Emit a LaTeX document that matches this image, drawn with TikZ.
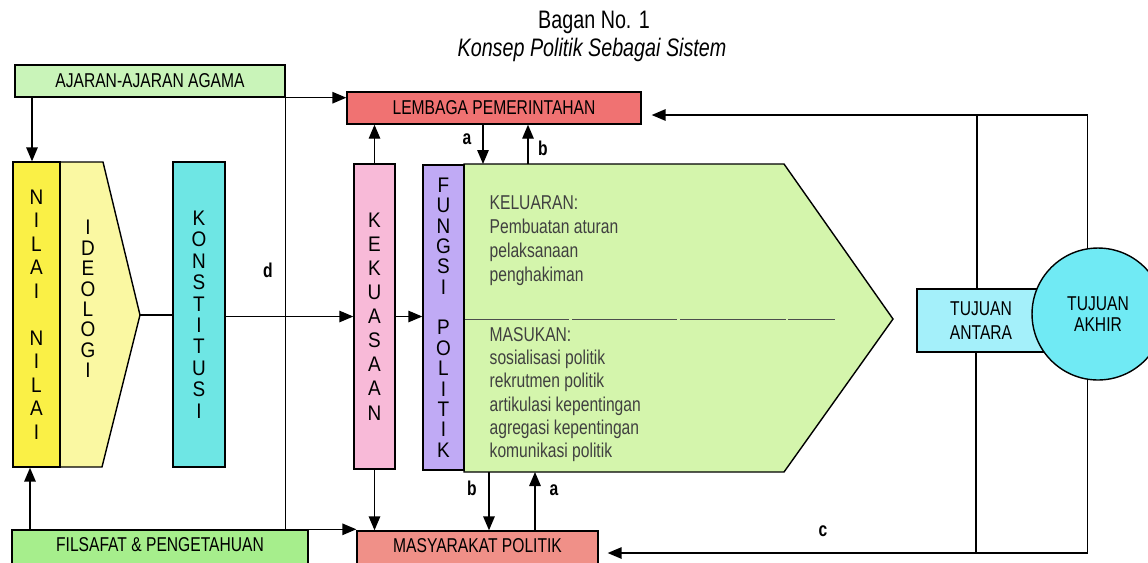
\documentclass[tikz,border=0pt]{standalone}
\usepackage{fontspec}
\setmainfont{Liberation Sans}[FakeStretch=0.78]
\newfontfamily\colfont{Liberation Sans}[FakeStretch=0.9]
\usetikzlibrary{arrows.meta}

\definecolor{agamagreen}{HTML}{C9F4B9}
\definecolor{filsgreen}{HTML}{A6EE8C}
\definecolor{lemred}{HTML}{F07272}
\definecolor{masyred}{HTML}{F09088}
\definecolor{nilaiyellow}{HTML}{FAF046}
\definecolor{ideoyellow}{HTML}{FAF8A2}
\definecolor{konstcyan}{HTML}{6EE6E4}
\definecolor{kekpink}{HTML}{F8BAD8}
\definecolor{fungsililac}{HTML}{C0AAF5}
\definecolor{polgreen}{HTML}{D4F5AC}
\definecolor{antaracyan}{HTML}{A4F0FA}
\definecolor{akhircyan}{HTML}{70EAF4}

\begin{document}
\begin{tikzpicture}[x=0.02cm, y=-0.02cm, line width=0.8pt,
    box/.style={draw, inner sep=0pt, font=\fontsize{11.4}{13.7}\selectfont},
    body/.style={inner sep=0pt, align=left, text=black!75},
    arr/.style={-{Triangle[length=2.8mm,width=2.3mm]}},
    lbl/.style={font=\fontsize{11.4}{13}\selectfont\bfseries}]
    \useasboundingbox (0,0) rectangle (1148,562);

    % Title
    \node[font=\fontsize{14.4}{16}\selectfont] (title) at (594,22) {Bagan No. 1};
    \node[font=\fontsize{14.4}{16}\selectfont\itshape] (subtitle) at (592,50) {Konsep Politik Sebagai Sistem};

    % Sources and institutions
    \node[box, fill=agamagreen, minimum width=5.4cm, minimum height=0.64cm] (agama) at (150,81) {AJARAN-AJARAN AGAMA};
    \node[box, fill=filsgreen, minimum width=5.92cm, minimum height=0.9cm,
          label={[yshift=0.15cm, font=\fontsize{11.4}{13.7}\selectfont]center:FILSAFAT \& PENGETAHUAN}] (filsafat) at (160,552.5) {};
    \node[box, fill=lemred, minimum width=5.88cm, minimum height=0.64cm] (lembaga) at (494,108) {LEMBAGA PEMERINTAHAN};
    \node[box, fill=masyred, minimum width=4.82cm, minimum height=0.88cm,
          label={[yshift=0.14cm, font=\fontsize{11.4}{13.7}\selectfont]center:MASYARAKAT POLITIK}] (masy) at (477.5,553) {};

    % Ideologi and the political system body
    \draw[fill=ideoyellow] (60,162) -- (103,162) -- (140,315) coordinate (ideotip) -- (102,467) -- (60,467) -- cycle;
    \node[align=center, inner sep=0pt, font=\colfont\fontsize{12}{11.6}\selectfont] (ideologi) at (88,299) {I\\D\\E\\O\\L\\O\\G\\I};
    \draw[fill=polgreen] (464,164) coordinate (gnw) -- (784,164) -- (893,319) coordinate (gtip) -- (784,472) -- (464,472) coordinate (gsw) -- cycle;
    \draw[line width=0.5pt, black!70, dash pattern=on 60pt off 1.5pt] (464,319) -- (835,319);

    % Tall lettered columns
    \foreach \name/\cx/\cy/\col/\bw/\ls/\letters in {
        nilai/36.5/314.5/nilaiyellow/0.94/13.4/{N\\I\\L\\A\\I\\[13.4pt]N\\I\\L\\A\\I},
        konst/199/314.5/konstcyan/1.04/12.2/{K\\O\\N\\S\\T\\I\\T\\U\\S\\I},
        kek/374.5/316.5/kekpink/0.82/13.7/{K\\E\\K\\U\\A\\S\\A\\A\\N},
        fungsi/443.5/317.5/fungsililac/0.82/11.6/{F\\U\\N\\G\\S\\I\\[11.6pt]P\\O\\L\\I\\T\\I\\K}} {
        \node[box, fill=\col, align=center, minimum width=\bw cm, minimum height=6.1cm,
              font=\colfont\fontsize{12}{\ls}\selectfont] (\name) at (\cx,\cy) {\letters};
    }

    % Output and input lists
    \node[body, anchor=west, font=\fontsize{11.4}{13.7}\selectfont] (keluaran) at (489,241)
        {KELUARAN:\\Pembuatan aturan\\pelaksanaan\\penghakiman};
    \node[body, anchor=west, font=\fontsize{11.4}{13.3}\selectfont] (masukan) at (489,394.5)
        {MASUKAN:\\sosialisasi politik\\rekrutmen politik\\artikulasi kepentingan\\agregasi kepentingan\\komunikasi politik};

    % Goals
    \node[box, fill=antaracyan, align=center, minimum width=2.56cm, minimum height=1.26cm] (antara) at (981,320.5) {TUJUAN\\ANTARA};
    \node[box, circle, fill=akhircyan, align=center, minimum size=2.64cm, font=\fontsize{11.4}{12}\selectfont] (akhir) at (1098,314) {TUJUAN\\AKHIR};

    % Left side connectors
    \coordinate (nin) at ([xshift=-0.09cm]nilai.north);
    \coordinate (nout) at ([xshift=-0.13cm]nilai.south);
    \draw[arr] (nin |- agama.south) -- (nin);
    \draw[arr] (nout |- filsafat.north) -- (nout);
    \draw[arr] (agama.south east) -- (agama.south east -| lembaga.west);
    \draw (agama.south east) -- (agama.south east |- filsafat.north);
    \draw[arr] (filsafat.north east) -- (filsafat.north east -| masy.west);
    \node[lbl] (d) at (268,270) {d};
    \draw (ideotip) -- (ideotip -| konst.west);
    \draw[arr] (konst.east |- kek.west) -- (kek.west);
    \draw[arr] (kek.east) -- (kek.east -| fungsi.west);
    \draw[arr] (kek.north) -- (kek.north |- lembaga.south);
    \draw[arr] (kek.south) -- (kek.south |- masy.north);

    % a and b between system and institutions
    \coordinate (atop) at ([xshift=-0.22cm]lembaga.south);
    \coordinate (btop) at ([xshift=0.68cm]lembaga.south);
    \coordinate (bbot) at ([xshift=0.23cm]masy.north);
    \coordinate (abot) at ([xshift=1.15cm]masy.north);
    \draw[arr] (atop) -- (atop |- gnw);
    \draw[arr] (btop |- gnw) -- (btop);
    \draw[arr] (bbot |- gsw) -- (bbot);
    \draw[arr] (abot) -- (abot |- gsw);
    \node[lbl] (a1) at (467,139) {a};
    \node[lbl] (b1) at (543,148) {b};
    \node[lbl] (b2) at (472,488) {b};
    \node[lbl] (a2) at (554,490) {a};

    % Feedback c from the goals
    \coordinate (lemin) at ([yshift=-0.14cm]lembaga.east);
    \coordinate (antop) at ([xshift=-0.08cm]antara.north);
    \coordinate (anbot) at ([xshift=-0.1cm]antara.south);
    \draw[arr, shorten >=0.2cm] (akhir.99) |- (lemin);
    \draw (antop) -- (antop |- lemin);
    \draw[arr, shorten >=0.18cm] (akhir.261) |- (masy.east);
    \draw (anbot) -- (anbot |- masy.east);
    \node[lbl] (c) at (823,531) {c};
\end{tikzpicture}
\end{document}
